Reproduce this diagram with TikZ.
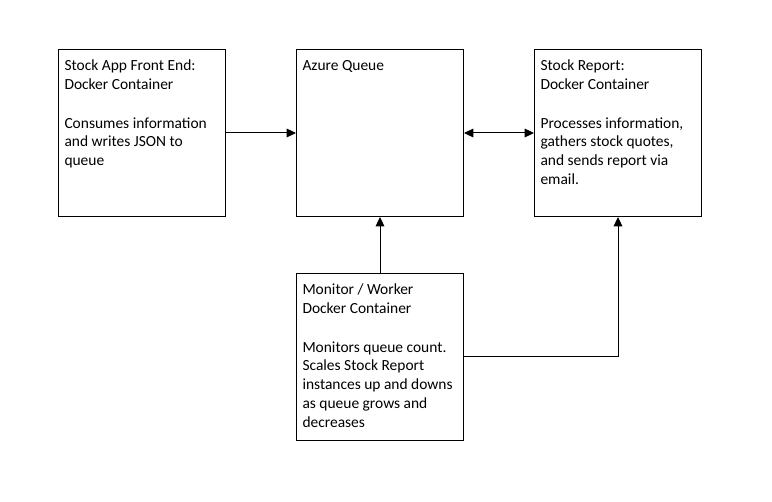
\documentclass[tikz,border=0pt]{standalone}
\usepackage{fontspec}
\setmainfont{Carlito}
\usetikzlibrary{arrows.meta, positioning}

\newcommand{\boxtext}[1]{\parbox[c][116.25pt][t]{116.25pt}{\raggedright\rule{0pt}{11.5pt}#1}}

\begin{document}
\begin{tikzpicture}[
  x=0.75pt, y=-0.75pt,
  block/.style={draw, rectangle, line width=0.75pt, inner sep=4.5pt, font=\fontsize{11.6}{14.2}\selectfont},
  arr/.style={-{Triangle[length=7pt, width=6.5pt]}, line width=0.75pt},
  node distance=52.5pt
]
\useasboundingbox (0,0) rectangle (772,502);

\node[block, anchor=north west] (front) at (58,49)
  {\boxtext{Stock App Front End:\\ Docker Container\\[14.5pt] Consumes information\\ and writes JSON to\\ queue}};
\node[block, right=of front] (queue) {\boxtext{Azure Queue}};
\node[block, right=of queue] (report)
  {\boxtext{Stock Report:\\ Docker Container\\[14.5pt] Processes information,\\ gathers stock quotes,\\ and sends report via\\ email.}};
\node[block, below=42pt of queue] (monitor)
  {\boxtext{Monitor / Worker\\ Docker Container\\[14.5pt] Monitors queue count.\\ Scales Stock Report\\ instances up and downs\\ as queue grows and\\ decreases}};

\draw[arr] (front) -- (queue);
\draw[arr, {Triangle[length=7pt, width=6.5pt]}-{Triangle[length=7pt, width=6.5pt]}] (queue) -- (report);
\draw[arr] (monitor) -- (queue);
\draw[arr] (monitor.east) -| (report.south);
\end{tikzpicture}
\end{document}
